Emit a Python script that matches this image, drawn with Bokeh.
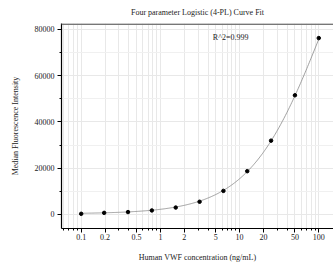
import numpy as np
from bokeh.plotting import figure
from bokeh.models import FixedTicker, Label, Span, Range1d
from bokeh.embed import file_html
from bokeh.resources import INLINE

# data
conc = [0.1, 0.195, 0.39, 0.78, 1.5625, 3.125, 6.25, 12.5, 25, 50, 100]
mfi = [300, 700, 1050, 1750, 3000, 5500, 10200, 18700, 31900, 51500, 76200]
# 4-PL fit parameters
A_min, D_max, C_mid, B_slope = 300.0, 161000.0, 114.0, 0.93
r2_text = "R^2=0.999"
x_major = [0.1, 0.2, 0.5, 1, 2, 5, 10, 20, 50, 100]
x_minor = [0.06, 0.07, 0.08, 0.09, 0.3, 0.4, 0.6, 0.7, 0.8, 0.9, 3, 4, 6, 7, 8, 9,
           30, 40, 60, 70, 80, 90]
y_major = [0, 20000, 40000, 60000, 80000]
y_minor = [10000, 30000, 50000, 70000]

FONT = "Liberation Serif"
Y_TOP = 82500

p = figure(width=333, height=270, x_axis_type="log", output_backend="svg",
           toolbar_location=None, x_range=Range1d(0.0564, 153.5), y_range=Range1d(-6050, Y_TOP),
           min_border_left=61, min_border_right=0, min_border_top=23, min_border_bottom=42)

p.title.text = "Four parameter Logistic (4-PL) Curve Fit"
p.title.align = "center"
p.title.vertical_align = "middle"
p.title.text_font = FONT
p.title.text_font_size = "8px"
p.title.text_font_style = "normal"
p.title.text_color = "#222222"
p.title.standoff = 11

p.xaxis.ticker = FixedTicker(ticks=x_major, minor_ticks=x_minor)
p.xaxis.major_label_overrides = {0.1: "0.1", 0.2: "0.2", 0.5: "0.5", 1: "1", 2: "2", 5: "5",
                                 10: "10", 20: "20", 50: "50", 100: "100"}
p.yaxis.ticker = FixedTicker(ticks=y_major, minor_ticks=y_minor)

for ax in (p.xaxis[0], p.yaxis[0]):
    ax.axis_line_color = "black"
    ax.axis_line_width = 1.2
    ax.major_tick_line_color = "black"
    ax.minor_tick_line_color = "black"
    ax.major_tick_in = 0
    ax.major_tick_out = 4
    ax.minor_tick_in = 0
    ax.minor_tick_out = 2
    ax.major_label_text_font = FONT
    ax.major_label_text_font_size = "8px"
    ax.major_label_text_color = "#222222"
    ax.axis_label_text_font = FONT
    ax.axis_label_text_font_size = "8px"
    ax.axis_label_text_font_style = "normal"
    ax.axis_label_text_color = "#222222"

p.xaxis.axis_label = "Human VWF concentration (ng/mL)"
p.yaxis.axis_label = "Median Fluorescence Intensity"
p.xaxis.major_label_standoff = 1
p.xaxis.axis_label_standoff = 10
p.yaxis.major_label_standoff = 3
p.yaxis.axis_label_standoff = 12
p.yaxis.major_label_orientation = "horizontal"

p.xgrid.grid_line_color = "#e8e8e8"
p.xgrid.minor_grid_line_color = "#e8e8e8"
p.ygrid.grid_line_color = "#e8e8e8"
p.ygrid.minor_grid_line_color = "#f0f0f0"

p.outline_line_color = None
p.background_fill_color = "white"
p.border_fill_color = "white"

# top border of the frame
p.add_layout(Span(location=Y_TOP - 250, dimension="width", line_color="#777777", line_width=1.6))

# fit curve
xs = np.logspace(-1, 2, 300)
ys = D_max + (A_min - D_max) / (1 + (xs / C_mid) ** B_slope)
p.line(xs, ys, line_color="#888888", line_width=0.8)

p.scatter(conc, mfi, size=3.5, color="black")

p.add_layout(Label(x=4.6, y=76500, text=r2_text, text_font=FONT, text_font_size="8px",
                   text_color="#222222", text_baseline="middle", text_align="left"))

open("out.html", "w").write(file_html(p, INLINE))
